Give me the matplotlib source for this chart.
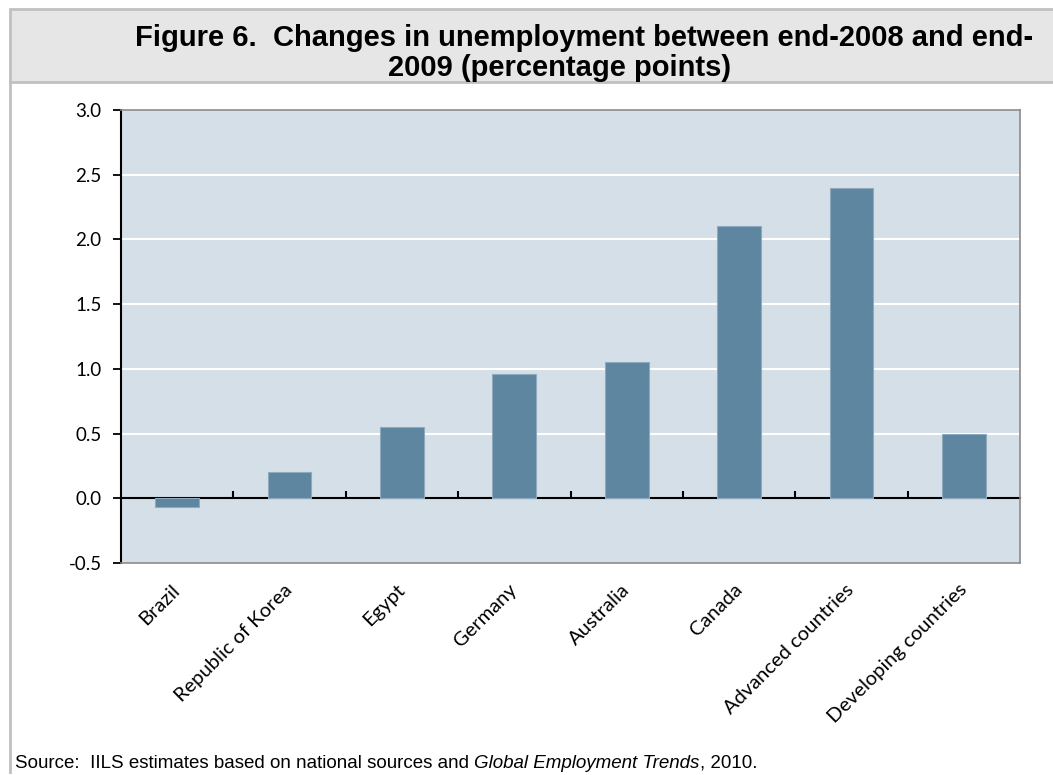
import matplotlib
matplotlib.use("Agg")
import matplotlib.pyplot as plt
from matplotlib.patches import Rectangle
from matplotlib.lines import Line2D
from matplotlib.transforms import ScaledTranslation

# Data
categories = ["Brazil", "Republic of Korea", "Egypt", "Germany", "Australia",
              "Canada", "Advanced countries", "Developing countries"]
changes = [-0.07, 0.20, 0.55, 0.96, 1.05, 2.10, 2.40, 0.50]
yticks = [-0.5, 0.0, 0.5, 1.0, 1.5, 2.0, 2.5, 3.0]
ytick_labels = ["-0.5", "0.0", "0.5", "1.0", "1.5", "2.0", "2.5", "3.0"]

title_line1 = "Figure 6.  Changes in unemployment between end-2008 and end-"
title_line2 = "2009 (percentage points)"

W, H = 1053, 775
fig = plt.figure(figsize=(W / 100, H / 100), dpi=100)
fig.patch.set_facecolor("white")

# Title band and frame
border = "#c0c0c0"
band_top, band_bot = 9 / H, 82 / H
fig.patches.append(Rectangle((10 / W, 1 - band_bot), 1.0, band_bot - band_top,
                             transform=fig.transFigure, facecolor="#e6e6e6",
                             edgecolor=border, linewidth=2, zorder=0))
fig.lines.append(Line2D([10 / W, 10 / W], [1 - band_bot, 1 - 772 / H],
                        transform=fig.transFigure, color=border, linewidth=2))

fig.text(584 / W, 1 - 38 / H, title_line1, ha="center", va="center",
         fontsize=21, fontweight="bold", family="Liberation Sans")
fig.text(560 / W, 1 - 68 / H, title_line2, ha="center", va="center",
         fontsize=21, fontweight="bold", family="Liberation Sans")

# Plot area
left, right, top, bottom = 121, 1020, 110, 563
ax = fig.add_axes([left / W, 1 - bottom / H, (right - left) / W, (bottom - top) / H])
ax.set_facecolor("#d5dfe7")

x = list(range(len(categories)))
ax.bar(x, changes, width=0.39, color="#5e86a0", edgecolor="#8eaabf",
       linewidth=0.8, zorder=3)

ax.set_xlim(-0.5, len(categories) - 0.5)
ax.set_ylim(-0.5, 3.0)

# Horizontal gridlines
for v in yticks[1:-1]:
    if v != 0:
        ax.axhline(v, color="white", linewidth=1.5, zorder=1)

# Zero line with category-separator ticks
zero_pos = (0 - (-0.5)) / (3.0 - (-0.5))
sec = ax.secondary_xaxis(zero_pos)
sec.spines["bottom"].set_color("black")
sec.spines["bottom"].set_linewidth(1.5)
sec.set_xticks([i + 0.5 for i in range(len(categories) - 1)])
sec.tick_params(axis="x", direction="in", length=5, width=1.5, color="black",
                labelbottom=False)
sec.spines["bottom"].set_zorder(5)

# Spines
for s in ["top", "right", "bottom"]:
    ax.spines[s].set_color("#8c8c8c")
    ax.spines[s].set_linewidth(1.2)
ax.spines["left"].set_color("black")
ax.spines["left"].set_linewidth(1.5)

ax.set_yticks(yticks)
ax.set_yticklabels(ytick_labels, family="Lato", fontsize=13.5)
ax.tick_params(axis="y", direction="out", length=6, width=1.3, color="black", pad=8)

ax.set_xticks(x)
ax.set_xticklabels(categories, rotation=45, ha="right", rotation_mode="anchor",
                   family="Lato", fontsize=14.5)
ax.tick_params(axis="x", length=0, pad=13)
shift = ScaledTranslation(-6 / 100, 0, fig.dpi_scale_trans)
for lbl in ax.get_xticklabels():
    lbl.set_transform(lbl.get_transform() + shift)

# Source note
fig.text(15 / W, 1 - 763 / H, "Source:  IILS estimates based on national sources and ",
         ha="left", va="center", fontsize=13.5, family="Liberation Sans")
src = fig.texts[-1]
fig.canvas.draw()
bb = src.get_window_extent()
fig.text(bb.x1 / W, 1 - 763 / H, "Global Employment Trends",
         ha="left", va="center", fontsize=13.5, family="Liberation Sans", style="italic")
fig.canvas.draw()
bb2 = fig.texts[-1].get_window_extent()
fig.text(bb2.x1 / W, 1 - 763 / H, ", 2010.",
         ha="left", va="center", fontsize=13.5, family="Liberation Sans")

fig.savefig("out.png", dpi=100)
